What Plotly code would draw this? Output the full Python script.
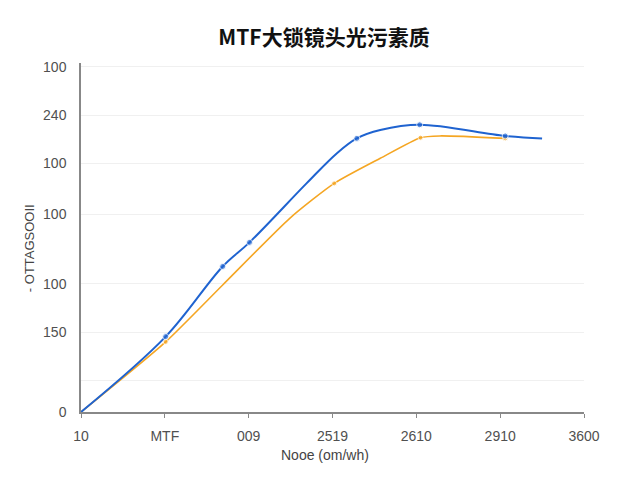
import plotly.graph_objects as go

# x positions are tick slots (0..6), y is in plot units (0..100)
x_ticks = [0, 1, 2, 3, 4, 5, 6]
x_labels = ["10", "MTF", "009", "2519", "2610", "2910", "3600"]

y_ticks = [0, 8.9, 22.9, 36.7, 56.7, 71.3, 85.1, 98.9]
y_labels = ["0", "", "150", "100", "100", "100", "240", "100"]

blue_x = [0, 1.01, 1.69, 2.01, 2.69, 3.05, 3.29, 3.57, 4.04, 5.06, 5.50]
blue_y = [0, 21.6, 41.7, 48.6, 65.5, 74.1, 78.4, 80.8, 82.3, 79.1, 78.4]
blue_marked = [0, 1, 1, 1, 0, 0, 1, 0, 1, 1, 0]

orange_x = [0, 1.01, 1.69, 2.49, 3.02, 3.57, 4.05, 4.28, 5.06]
orange_y = [0, 20.1, 36.4, 55.5, 65.5, 72.7, 78.6, 79.1, 78.4]
orange_marked = [0, 1, 0, 0, 1, 0, 1, 0, 1]

fig = go.Figure()
fig.add_trace(go.Scatter(
    x=orange_x, y=orange_y, mode="lines+markers",
    line=dict(color="#F5A623", width=1.6, shape="spline", smoothing=0.6),
    marker=dict(size=[5 * m for m in orange_marked], color="#F5A623"),
    showlegend=False))
fig.add_trace(go.Scatter(
    x=blue_x, y=blue_y, mode="lines+markers",
    line=dict(color="#1F63D0", width=2, shape="spline", smoothing=1.0),
    marker=dict(size=[6 * m for m in blue_marked], color="#1F63D0"),
    showlegend=False))

# page body has an 8px margin, so the figure is 632x472
fig.update_layout(
    width=632, height=472,
    margin=dict(l=73, r=56, t=55, b=68),
    paper_bgcolor="white", plot_bgcolor="white",
    font=dict(family="Liberation Sans, Arial", size=14, color="#505050"),
    title=dict(text="<b>MTF大锁镜头光污素质</b>", xref="container", x=0.5,
               y=1 - 30 / 472, yanchor="middle", xanchor="center",
               font=dict(family="Noto Sans CJK SC", size=21, color="#111")),
)
fig.update_xaxes(range=[0, 6], tickvals=x_ticks, ticktext=x_labels,
                 showgrid=False, zeroline=False, showline=True,
                 linecolor="#888", linewidth=1.5, ticks="outside",
                 ticklen=4, tickcolor="#888", ticklabelstandoff=6)
fig.update_yaxes(range=[0, 100], tickvals=y_ticks, ticktext=y_labels,
                 showgrid=True, gridcolor="#F0F0F0", zeroline=False,
                 showline=True, linecolor="#888", linewidth=1.5, ticks="",
                 ticklabelstandoff=10)

fig.add_annotation(text="- OTTAGSOOII", xref="paper", yref="paper",
                   x=-0.101, y=0.47, xanchor="center", yanchor="middle",
                   textangle=-90, showarrow=False,
                   font=dict(size=13, color="#444"))
fig.add_annotation(text="Nooe (om/wh)", xref="paper", yref="paper",
                   x=0.485, y=-0.123, xanchor="center", yanchor="middle",
                   showarrow=False, font=dict(size=14, color="#444"))

fig.write_html("out.html")
